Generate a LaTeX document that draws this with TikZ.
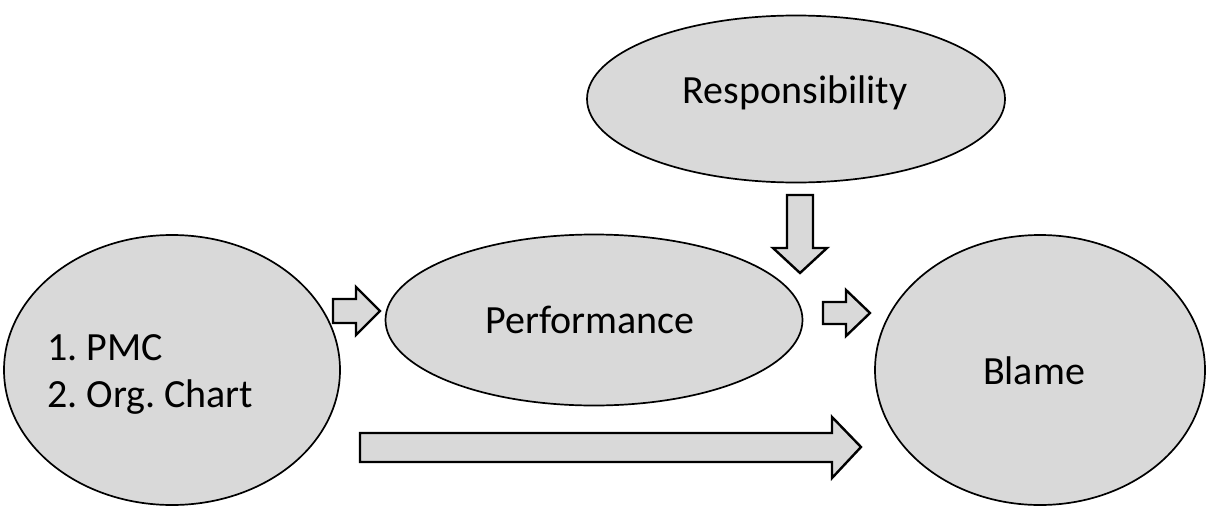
\documentclass[tikz,border=0pt]{standalone}
\usepackage{fontspec}
\setmainfont{Carlito}
\usetikzlibrary{shapes.geometric}
\definecolor{fillgray}{HTML}{D9D9D9}
\tikzset{
  oval/.style={ellipse, draw=black, line width=1.7pt, fill=fillgray, inner sep=0pt},
  lbl/.style={font=\fontsize{40}{47}\selectfont, text=black, inner sep=0pt},
  blockarrow/.style={draw=black, line width=2.4pt, fill=fillgray, line join=miter}
}
\begin{document}
\frenchspacing
\begin{tikzpicture}[x=1pt,y=-1pt]
\useasboundingbox (0,0) rectangle (1206,506);
\node[oval, minimum width=336pt, minimum height=270pt] (src) at (172,370) {};
\node[lbl, anchor=base west] (srctxt) at (47,360) {1. PMC};
\node[lbl, anchor=base west] (srctxt2) at (47,407) {2. Org. Chart};
\node[oval, minimum width=417pt, minimum height=171pt] (perf) at (594,320) {};
\node[lbl, anchor=base] (perftxt) at (590,333) {Performance};
\node[oval, minimum width=418pt, minimum height=167pt] (resp) at (796,99) {};
\node[lbl, anchor=base] (resptxt) at (795,103) {Responsibility};
\node[oval, minimum width=330pt, minimum height=270pt] (blame) at (1040,370) {};
\node[lbl, anchor=base] (blametxt) at (1034,384) {Blame};
% block arrows
\draw[blockarrow] (333,299) -- (356,299) -- (356,287) -- (380,311) -- (356,335) -- (356,323) -- (333,323) -- cycle;
\draw[blockarrow] (823,302) -- (846,302) -- (846,290) -- (870,313) -- (846,336) -- (846,324) -- (823,324) -- cycle;
\draw[blockarrow] (787,195) -- (813,195) -- (813,248) -- (827,248) -- (800,273) -- (773,248) -- (787,248) -- cycle;
\draw[blockarrow] (360,433) -- (832,433) -- (832,417) -- (861,447) -- (832,478) -- (832,462) -- (360,462) -- cycle;
\end{tikzpicture}
\end{document}
